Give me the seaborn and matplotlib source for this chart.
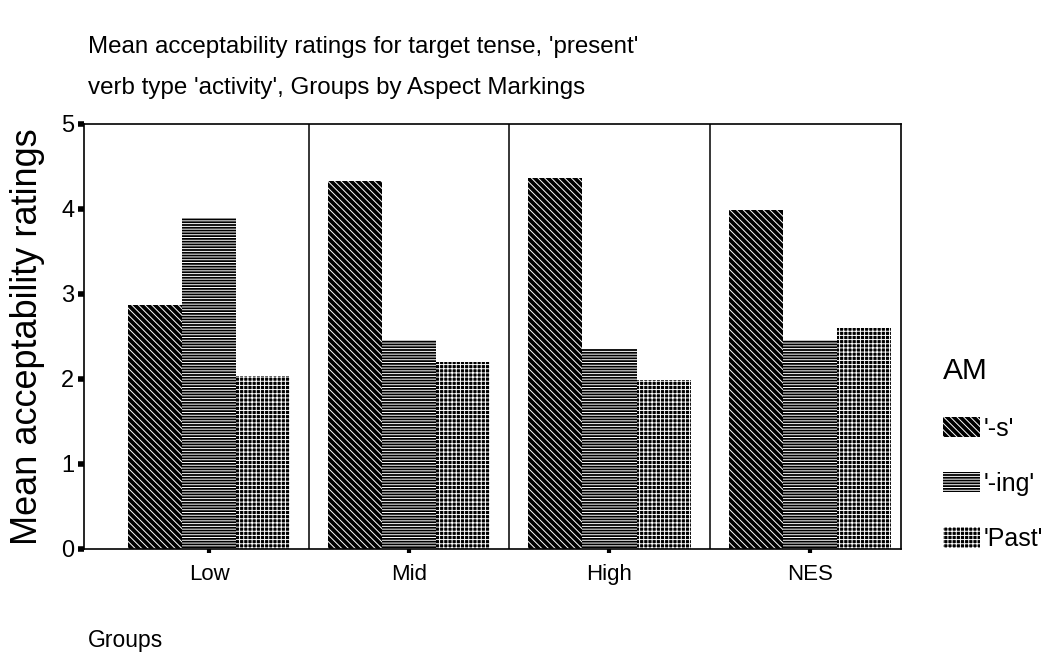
import numpy as np
import pandas as pd
import matplotlib
matplotlib.use("Agg")
import matplotlib.pyplot as plt
from matplotlib.patches import Patch
import seaborn as sns

# Data
groups = ["Low", "Mid", "High", "NES"]
markings = ["'-s'", "'-ing'", "'Past'"]
s_vals = [2.87, 4.33, 4.36, 3.98]
ing_vals = [3.89, 2.46, 2.35, 2.46]
past_vals = [2.03, 2.20, 1.99, 2.60]

df = pd.DataFrame({
    "Groups": groups * 3,
    "AM": [m for m in markings for _ in groups],
    "Rating": s_vals + ing_vals + past_vals,
})

sns.set_style("white")
plt.rcParams["font.family"] = ["Liberation Sans", "DejaVu Sans"]
plt.rcParams["text.color"] = "black"
plt.rcParams["xtick.color"] = "black"
plt.rcParams["ytick.color"] = "black"
plt.rcParams["hatch.linewidth"] = 0.7

fig = plt.figure(figsize=(10.51, 6.62), dpi=100)
ax = fig.add_axes([0.080, 0.171, 0.777, 0.642])

sns.barplot(data=df, x="Groups", y="Rating", hue="AM", order=groups,
            hue_order=markings, palette=["black"] * 3, saturation=1,
            width=0.81, gap=0, legend=False, ax=ax)

hatches = ["\\\\\\\\\\", "------", "++++"]
for cont, h in zip(ax.containers, hatches):
    for bar in cont:
        bar.set_hatch(h)
        bar.set_edgecolor("white")
        bar.set_linewidth(0)

# panel separators
for xv in [0.5, 1.5, 2.5]:
    ax.axvline(xv, color="black", lw=1.1)

ax.set_xlim(-0.625, 3.455)
ax.set_ylim(0, 5)
ax.set_yticks([0, 1, 2, 3, 4, 5])
for sp in ax.spines.values():
    sp.set_visible(True)
    sp.set_color("black")
    sp.set_linewidth(1.2)

ax.tick_params(axis="y", left=True, direction="out", length=4, width=4,
               labelsize=17, pad=3)
ax.tick_params(axis="x", bottom=True, direction="out", length=3, width=3,
               labelsize=16, pad=8)
ax.set_xlabel("")
ax.set_ylabel("")

fig.text(0.084, 0.929, "Mean acceptability ratings for target tense, 'present'",
         fontsize=17.4, va="center", ha="left")
fig.text(0.084, 0.867, "verb type 'activity', Groups by Aspect Markings",
         fontsize=17.4, va="center", ha="left")
fig.text(0.026, 0.491, "Mean acceptability ratings", rotation=90,
         fontsize=26, va="center", ha="center")
fig.text(0.084, 0.033, "Groups", fontsize=16.5, va="center", ha="left")

handles = [Patch(facecolor="black", edgecolor="white", linewidth=0, hatch=h)
           for h in hatches]
leg = fig.legend(handles, markings, title="AM", loc="upper left",
                 bbox_to_anchor=(0.8855, 0.479), frameon=False, fontsize=18,
                 title_fontsize=21.5, handlelength=1.48, handleheight=0.88,
                 handletextpad=0.12, labelspacing=1.25, borderpad=0,
                 alignment="left")

fig.savefig("out.png", dpi=100)
